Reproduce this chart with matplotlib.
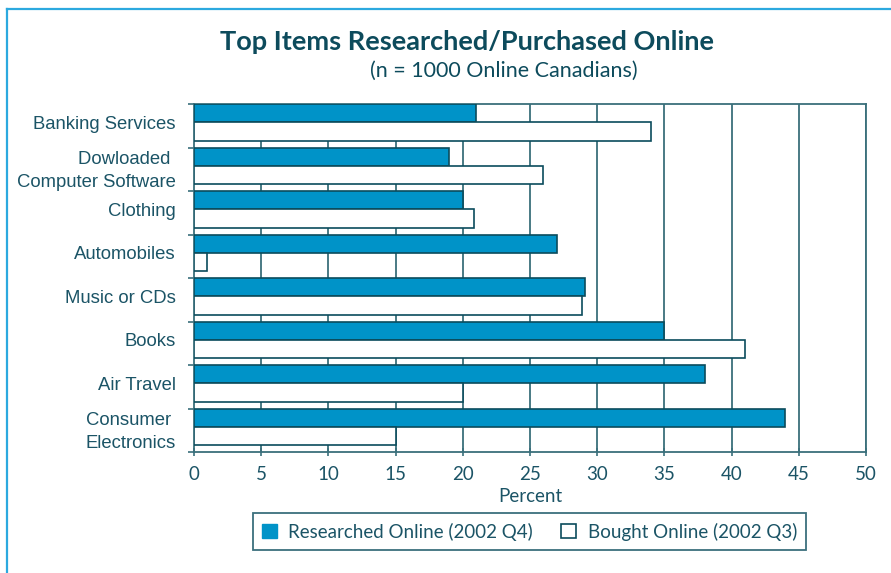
import matplotlib
matplotlib.use("Agg")
import matplotlib.pyplot as plt
from matplotlib.lines import Line2D
from matplotlib.patches import Patch
import numpy as np

categories = ["Banking Services", "Dowloaded \nComputer Software", "Clothing",
              "Automobiles", "Music or CDs", "Books", "Air Travel",
              "Consumer \nElectronics"]
researched = [21, 19, 20, 27, 29.1, 35, 38, 44]
bought = [34, 26, 20.8, 1, 28.9, 41, 20, 15]
xticks = [0, 5, 10, 15, 20, 25, 30, 35, 40, 45, 50]
series_names = ["Researched Online (2002 Q4)", "Bought Online (2002 Q3)"]

TEXT = "#1B5466"
TITLE = "#0D4B5C"
GRID = "#3A6F7B"
BLUE = "#0093C8"
EDGE = "#0B4C5C"
FRAME = "#2CA9DF"

fig = plt.figure(figsize=(8.91, 5.73), dpi=100)
ax = fig.add_axes([194/891, 1-452/573, 672/891, 348/573])

n = len(categories)
idx = np.arange(n)
h = 0.425
ax.barh(idx - 0.5 + h/2, researched, height=h, color=BLUE, edgecolor=EDGE, linewidth=1.2, zorder=3)
ax.barh(idx - 0.5 + 1.5*h, bought, height=h, color="white", edgecolor=EDGE, linewidth=1.2, zorder=3)

ax.set_xlim(0, 50)
ax.set_ylim(n - 0.5, -0.5)

ax.set_xticks(xticks)
ax.set_xticklabels([str(t) for t in xticks], family="Lato", fontsize=13.5, color=TEXT)
for t in xticks[1:]:
    ax.axvline(t, color=GRID, linewidth=1.3, zorder=1)

ax.set_yticks(idx - 0.5 + h)
ax.set_yticklabels(categories, family="Liberation Sans", fontsize=13.3, color=TEXT,
                   linespacing=1.45)
ax.set_yticks(np.arange(n + 1) - 0.5, minor=True)
ax.tick_params(axis="y", which="major", length=0, pad=13)
ax.tick_params(axis="y", which="minor", length=4, direction="out", color=GRID, width=1.2)
ax.tick_params(axis="x", which="major", length=6, direction="inout", color=GRID, width=1.2, pad=7)

for s in ax.spines.values():
    s.set_color(GRID)
    s.set_linewidth(1.3)

ax.set_xlabel("Percent", family="Lato", fontsize=13.5, color=TEXT, labelpad=4)

fig.text(467/891, 1-42/573, "Top Items Researched/Purchased Online", family="Lato",
         fontweight="bold", fontsize=19.5, color=TITLE, ha="center", va="center")
fig.text(504/891, 1-71/573, "(n = 1000 Online Canadians)", family="Lato",
         fontsize=15.5, color=TITLE, ha="center", va="center")

handles = [Patch(facecolor=BLUE, edgecolor=BLUE), Patch(facecolor="white", edgecolor=EDGE, linewidth=1.2)]
leg = fig.legend(handles, series_names, loc="center", bbox_to_anchor=(529.5/891, 1-531.5/573),
                 ncol=2, frameon=True, prop={"family": "Lato", "size": 13.5},
                 handlelength=0.8, handleheight=0.8, handletextpad=0.6, columnspacing=1.5,
                 fancybox=False, borderpad=0.5)
leg.get_frame().set_edgecolor(EDGE)
leg.get_frame().set_linewidth(1.3)
for t in leg.get_texts():
    t.set_color(TEXT)

fig.add_artist(Line2D([6.5/891, 1], [1-8.5/573, 1-8.5/573], color=FRAME, linewidth=1.6,
                      transform=fig.transFigure))
fig.add_artist(Line2D([6.5/891, 6.5/891], [0, 1-8.5/573], color=FRAME, linewidth=1.6,
                      transform=fig.transFigure))

fig.savefig("out.png", dpi=100)
